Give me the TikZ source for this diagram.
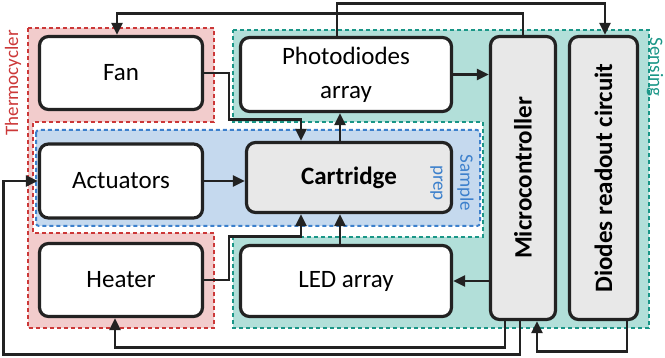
\documentclass[tikz,border=0pt]{standalone}
\usepackage{fontspec}
\usepackage{graphicx}
\setmainfont{Carlito}
\usetikzlibrary{arrows.meta}

\definecolor{lineBlack}{RGB}{34,34,34}
\definecolor{boxGray}{RGB}{232,232,232}
\definecolor{thermoRed}{RGB}{204,56,56}
\definecolor{thermoFill}{RGB}{242,204,204}
\definecolor{sensTeal}{RGB}{26,150,135}
\definecolor{sensFill}{RGB}{178,223,217}
\definecolor{prepBlue}{RGB}{60,128,204}
\definecolor{prepFill}{RGB}{197,217,238}

\begin{document}
\begin{tikzpicture}[
  x=1pt, y=-1pt,
  font=\fontsize{25}{34}\selectfont,
  >={Triangle[length=12pt,width=11pt]},
  flow/.style={->, line width=2.6pt, draw=lineBlack},
  block/.style={
    rounded corners=9pt,
    draw=lineBlack,
    line width=3.2pt,
    fill=white,
    inner sep=0pt,
    align=center
  },
  core/.style={
    block,
    fill=boxGray,
    font=\fontsize{25}{34}\selectfont\bfseries
  },
  region/.style={line width=2pt, dash pattern=on 4pt off 3pt},
  thermo/.style={region, draw=thermoRed, fill=thermoFill},
  sensing/.style={region, draw=sensTeal, fill=sensFill},
  prep/.style={region, draw=prepBlue, fill=prepFill, rounded corners=3pt},
  tag/.style={font=\fontsize{19}{27}\selectfont, align=center, inner sep=0pt}
]
\useasboundingbox (0,0) rectangle (665,358);

% Subsystem areas.
\draw[thermo] (28,28) -- (214,28) -- (214,122) -- (33,122) -- (33,233)
  -- (214,233) -- (214,328) -- (28,328) -- cycle;
\draw[sensing] (233,30) -- (649,30) -- (649,328) -- (233,328) -- (233,237)
  -- (483,237) -- (483,122) -- (233,122) -- cycle;
\draw[prep] (36,130) rectangle (480,226);

% Blocks.
\node[block, minimum width=163, minimum height=73] (fan) at (121,73) {Fan};
\node[block, minimum width=163, minimum height=74] (actuators) at (121,181) {Actuators};
\node[block, minimum width=163, minimum height=73] (heater) at (121,280) {Heater};
\node[block, minimum width=211, minimum height=74] (photo) at (346,74.5) {Photodiodes\\array};
\node[core, minimum width=205, minimum height=70] (cartridge) at (349,177.5) {Cartridge};
\node[block, minimum width=211, minimum height=71] (led) at (346,281) {LED array};
\node[core, minimum width=65, minimum height=283] (mcu) at (523,178)
  {\rotatebox{90}{Microcontroller}};
\node[core, minimum width=68, minimum height=283] (readout) at (603.5,178)
  {\rotatebox{90}{Diodes readout circuit}};

% Area names.
\node[tag, text=thermoRed, rotate=90] (thermolabel) at (13,83) {Thermocycler};
\node[tag, text=sensTeal, rotate=-90] (senslabel) at (655,67) {Sensing};
\node[tag, text=prepBlue, rotate=-90] (preplabel) at (452,183) {Sample\\prep};

% Signals over the top.
\draw[flow] ([xshift=-9pt]photo.north) -- ++(0,-32.5) -| ([xshift=1.5pt]readout.north);
\draw[flow] (mcu.north) -- ++(0,-21.5) -| ([xshift=-4pt]fan.north);

% Around the cartridge.
\draw[flow] (fan.east) -- ++(25,0) |- ([xshift=-48pt,yshift=21.5pt]cartridge.north)
  -- ([xshift=-48pt]cartridge.north);
\draw[flow] (heater.east) -- ++(25,0) |- ([xshift=-48pt,yshift=-22.5pt]cartridge.south)
  -- ([xshift=-48pt]cartridge.south);
\draw[flow] ([xshift=-9pt]cartridge.north) -- ([xshift=-9pt]cartridge.north |- photo.south);
\draw[flow] ([xshift=-6pt]led.north) -- ([xshift=-6pt]led.north |- cartridge.south);
\draw[flow] (actuators.east) -- (actuators.east -| cartridge.west);
\draw[flow] (photo.east) -- (photo.east -| mcu.west);
\draw[flow] (mcu.west |- led.east) -- (led.east);

% Signals along the bottom.
\draw[flow] ([xshift=23.5pt]readout.south) -- ++(0,30.5) -| ([xshift=14pt]mcu.south);
\draw[flow] ([xshift=-18pt]mcu.south) -- ++(0,26.5) -| ([xshift=-6pt]heater.south);
\draw[flow] ([xshift=-3pt]mcu.south) -- ++(0,33.5) -| ([xshift=-34.5pt]actuators.west)
  -- (actuators.west);

\end{tikzpicture}
\end{document}
